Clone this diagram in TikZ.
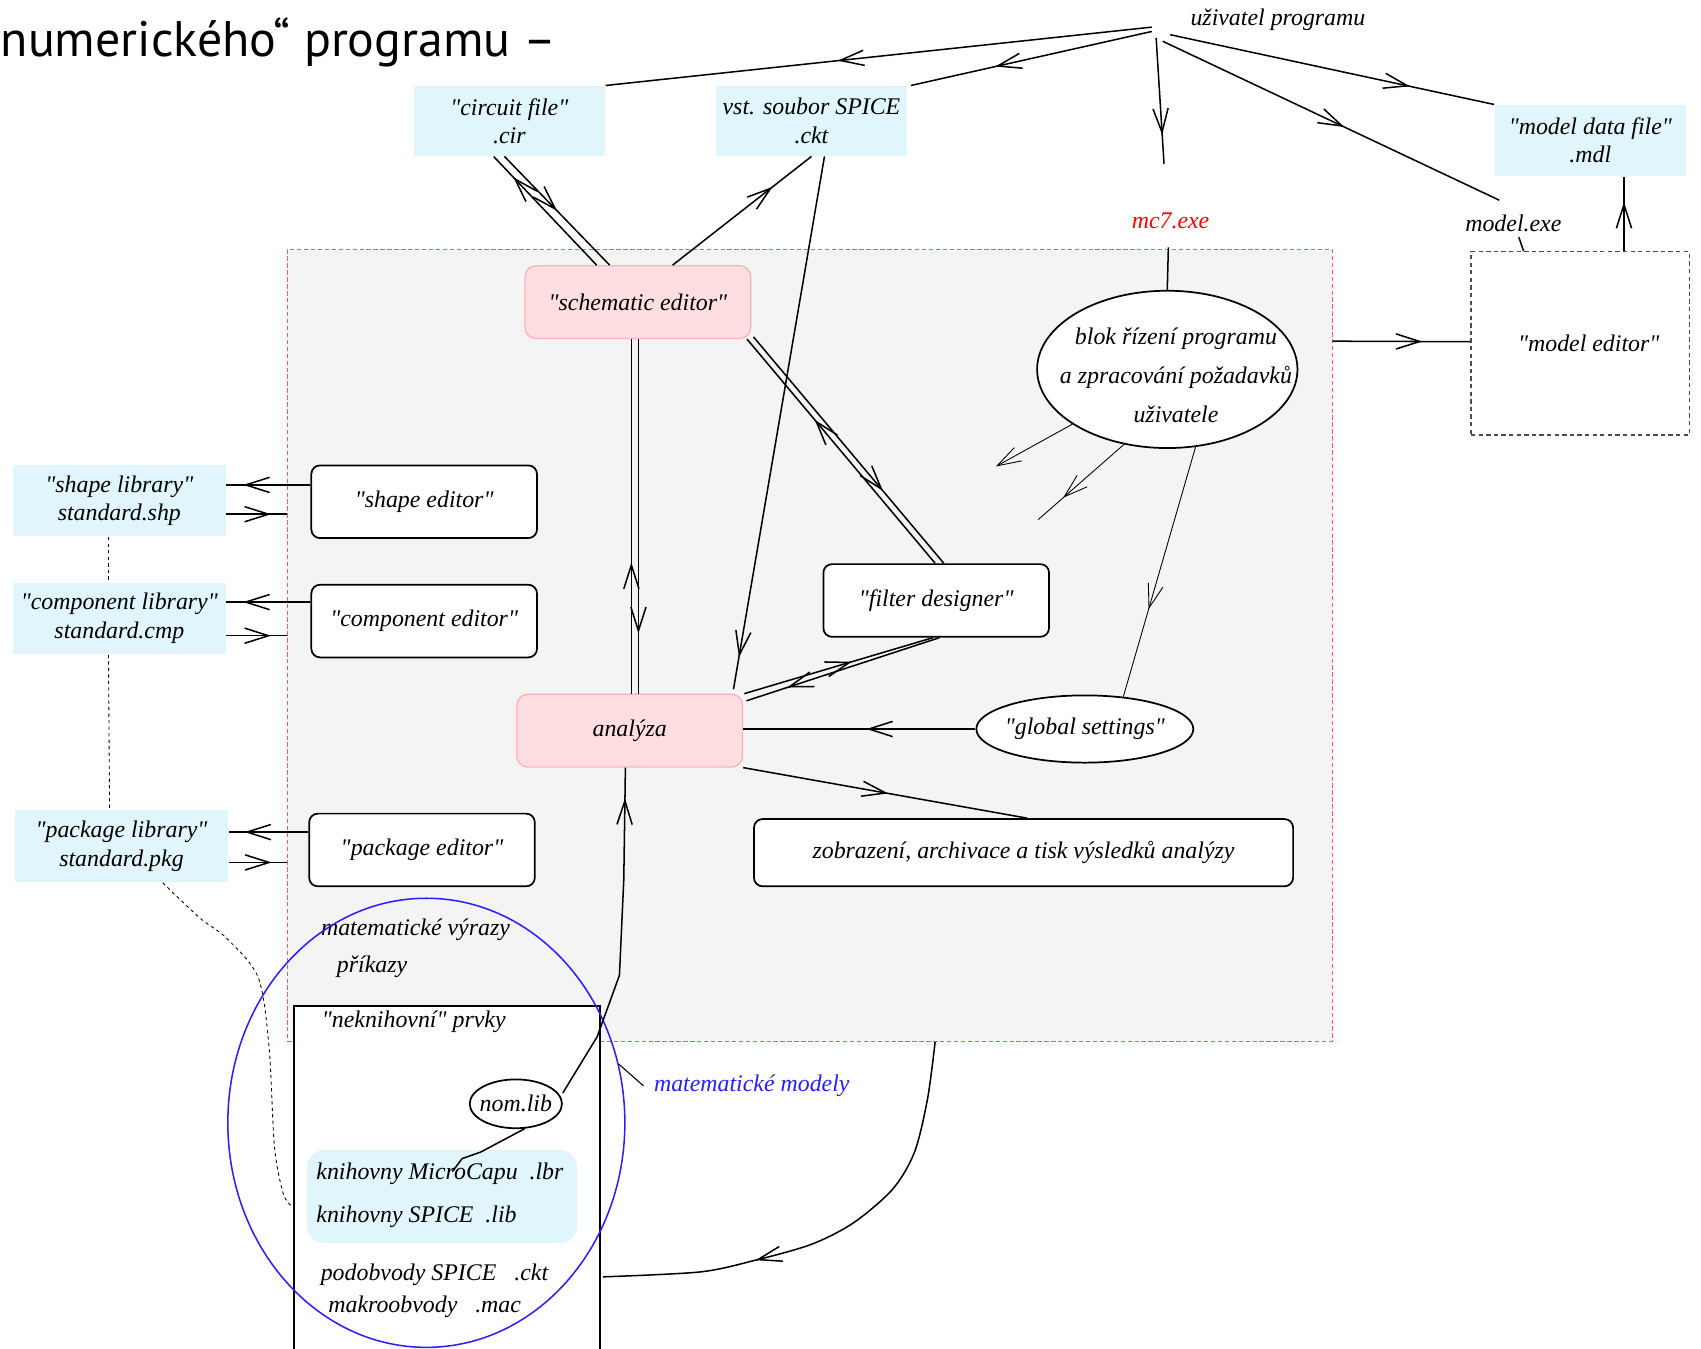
\documentclass[tikz,border=0pt]{standalone}
\usepackage{fontspec}
\setmainfont{Liberation Serif}
\newfontfamily\titlefont{PT Sans}
\usetikzlibrary{calc,shapes.geometric,arrows.meta,decorations.markings}
\definecolor{filecyan}{RGB}{224,246,252}
\definecolor{corepink}{RGB}{255,222,226}
\definecolor{coreedge}{RGB}{255,178,184}
\definecolor{areagray}{RGB}{244,244,244}
\definecolor{areared}{RGB}{255,90,90}
\definecolor{modelblue}{RGB}{40,30,255}
\newcommand\quoted[1]{\textquotedbl#1\textquotedbl}

\begin{document}
\begin{tikzpicture}[x=0.5pt, y=-0.5pt, line width=0.7pt,
    every node/.style={font=\fontsize{11}{13}\selectfont\itshape, inner sep=0pt, align=center},
    filebox/.style={fill=filecyan, minimum width=88pt, minimum height=32pt},
    libbox/.style={fill=filecyan, minimum width=98pt, minimum height=33pt},
    editbox/.style={draw, fill=white, rounded corners=4pt, line width=0.8pt, minimum width=104pt, minimum height=33.5pt},
    corebox/.style={draw=coreedge, fill=corepink, rounded corners=5pt, line width=0.6pt, minimum width=104pt, minimum height=33.5pt},
    oval/.style={draw, ellipse, fill=white, line width=0.8pt},
    flow/.style={postaction={decorate}, decoration={markings,
        mark=at position #1 with {\arrow{Straight Barb[length=11pt,width=7pt]}}}},
    thinflow/.style={flow=#1, line width=0.4pt},
    barbend/.style={line width=0.4pt, -{Straight Barb[length=11pt,width=7pt]}},
    libdots/.style={line width=0.4pt, dash pattern=on 1.5pt off 1.5pt}]
  \useasboundingbox (0,0) rectangle (1568,1243);
  \clip (0,0) rectangle (1568,1243);

  \node[draw=areared, fill=areagray, line width=0.5pt, dash pattern=on 2pt off 1.2pt,
        minimum width=481.5pt, minimum height=365pt] (mcarea) at (746.5,595) {};

  \node[anchor=base west, font=\titlefont\fontsize{23}{28}\selectfont] (title) at (0,52) {numerického“ programu –};
  \node (user) at (1178,18) {uživatel programu};
  \node[filebox] (cir) at (469.5,111.5) {\quoted{circuit file}\\.cir};
  \node[filebox] (ckt) at (748,111.5) {vst. soubor SPICE\\.ckt};
  \node[filebox, minimum height=32.5pt] (mdl) at (1466,129.5) {\quoted{model data file}\\.mdl};
  \node[text=red] (mc7) at (1079,204) {mc7.exe};
  \node (modexe) at (1395,206) {model.exe};
  \node[draw=black!70, dash pattern=on 2pt off 1.5pt, fill=white, line width=0.5pt,
        minimum width=100.5pt, minimum height=84.5pt,
        label={[xshift=4pt]center:\quoted{model editor}}] (modeled) at (1456.5,316.5) {};

  \node[libbox] (shp) at (110,461.5) {\quoted{shape library}\\standard.shp};
  \node[libbox] (cmp) at (110,570) {\quoted{component library}\\standard.cmp};
  \node[libbox] (pkg) at (112,780) {\quoted{package library}\\standard.pkg};

  \node[corebox] (sched) at (588,278.5) {\quoted{schematic editor}};
  \node[corebox] (ana) at (580.5,673.5) {analýza};
  \node[editbox] (shped) at (391,462.5) {\quoted{shape editor}};
  \node[editbox] (cmped) at (391,572.5) {\quoted{component editor}};
  \node[editbox] (pkged) at (389,783.5) {\quoted{package editor}};
  \node[editbox] (filt) at (863,553.5) {\quoted{filter designer}};
  \node[editbox, minimum width=248.5pt, minimum height=31pt] (zobr) at (943.5,786) {zobrazení, archivace a tisk výsledků analýzy};
  \node[oval, minimum width=120pt, minimum height=72.5pt] (blok) at (1076,340.5) {};
  \node[font=\fontsize{11}{18}\selectfont\itshape] (bloktext) at (1084,346) {blok řízení programu\\a zpracování požadavků\\uživatele};
  \node[oval, minimum width=100pt, minimum height=31pt, label={center:\quoted{global settings}}] (glob) at (1000,672) {};

  \node (vyrazy) at (383,857) {matematické výrazy};
  \node (prikazy) at (343,891) {příkazy};
  \node[draw, fill=white, line width=0.8pt, minimum width=141pt, minimum height=175pt] (nekn) at (412,1102) {};
  \node[anchor=west] (neknt) at (296,942) {\quoted{neknihovní} prvky};
  \node[oval, minimum width=42.5pt, minimum height=22.5pt, label={center:nom.lib}] (nomlib) at (475.5,1017.5) {};
  \node[fill=filecyan, rounded corners=8pt, minimum width=124.5pt, minimum height=43pt] (knih) at (407.5,1103) {};
  \node[anchor=west] (mcap) at (291,1082) {knihovny MicroCapu\ \ .lbr};
  \node[anchor=west] (spicelib) at (291,1122) {knihovny SPICE\ \ .lib};
  \node[anchor=west] (podob) at (295,1175) {podobvody SPICE\ \ \ .ckt};
  \node[anchor=west] (makro) at (302,1205) {makroobvody\ \ \ .mac};
  \node[draw=modelblue, ellipse, line width=0.7pt, minimum width=183pt, minimum height=207pt] (mmod) at (393,1035) {};
  \node[text=modelblue] (mmlabel) at (693,1001) {matematické modely};

  \coordinate (free1) at (918,430);
  \coordinate (free2) at (957,479);
  \coordinate (libend) at (417,1080);
  \coordinate (dotstart) at ($(pkg.south)+(38,0)$);
  \coordinate (dotend) at ($(nekn.west)+(-2,9)$);
  \coordinate (curvestart) at ($(mcarea.south)+(115.5,0)$);
  \coordinate (curveend) at ($(nekn.east)+(2,75)$);

  \draw[flow=0.575] ($(user.west)+(-35,7)$) -- (cir.north east);
  \draw[flow=0.65] ($(user.west)+(-35,11)$) -- ($(ckt.north east)+(3,0)$);
  \draw[flow=0.77] ($(user.west)+(-31,17)$) -- ($(mc7.north)+(-6,-45)$);
  \draw[flow=0.54] ($(user.west)+(-25,20)$) -- ($(modexe.north)+(-13,-13)$);
  \draw[flow=0.74] ($(user.west)+(-18,14)$) -- (mdl.north west);
  \draw ($(mc7.south)+(-2,16)$) -- (blok.north);

  \draw[flow=0.81] ($(sched.north)+(-38,0)$) -- ($(cir.south)+(-14.5,0)$);
  \draw[flow=0.5] ($(cir.south)+(-4.5,0)$) -- ($(sched.north)+(-26,0)$);
  \draw[flow=0.72] ($(sched.north)+(32,0)$) -- (ckt.south);
  \draw[flow=0.94] ($(ckt.south)+(12,0)$) -- ($(ana.north east)+(-9,-4)$);
  \draw[flow=0.37] ($(ana.north)+(1.5,0)$) -- ($(sched.south)+(-6,0)$);
  \draw[flow=0.83] ($(sched.south)+(0.5,0)$) -- ($(ana.north)+(8,0)$);
  \draw[flow=0.64] ($(filt.north)+(-1,0)$) -- ($(sched.south east)+(-4,0)$);
  \draw[flow=0.68] ($(sched.south east)+(2,-2)$) -- ($(filt.north)+(7,0)$);
  \draw[flow=0.57] ($(ana.north east)+(1,0)$) -- ($(filt.south)+(-3,0)$);
  \draw[flow=0.79] ($(filt.south)+(3,0)$) -- ($(ana.east)+(3,-27.5)$);
  \draw[flow=0.47] (glob.west) -- (glob.west -| ana.east);
  \draw[flow=0.51] (ana.south east) -- ($(zobr.north)+(3.5,0)$);

  \draw[thinflow=0.65] (blok.-70) -- (glob.40);
  \draw[barbend] (blok.210) -- (free1);
  \draw[thinflow=0.71] (blok.240) -- (free2);
  \draw[flow=0.65] ($(mcarea.north east)+(0,85)$) -- ($(modeled.west)+(0,-1.5)$);
  \draw[flow=0.66] ($(modeled.north)+(40.5,0)$) -- ($(mdl.south)+(31,0)$);
  \draw ($(modexe.south)+(5,4)$) -- ($(modeled.north)+(-52,0)$);

  \draw[flow=0.8] ($(shped.west)+(0,-15.5)$) -- ($(shp.east)+(0,-14.5)$);
  \draw[flow=0.74] ($(shp.east)+(0,12.5)$) -- ($(shped.west)+(-22,11.5)$);
  \draw[flow=0.8] ($(cmped.west)+(0,-17.5)$) -- ($(cmp.east)+(0,-15)$);
  \draw[flow=0.74] ($(cmp.east)+(0,16)$) -- ($(cmped.west)+(-22,13.5)$);
  \draw[flow=0.8] ($(pkged.west)+(0,-16.5)$) -- ($(pkg.east)+(0,-13)$);
  \draw[flow=0.74] ($(pkg.east)+(0,15)$) -- ($(pkged.west)+(-20,11.5)$);

  \draw[libdots] ($(shp.south)+(-10,0)$) -- ($(cmp.north)+(-10,0)$);
  \draw[libdots] ($(cmp.south)+(-10,0)$) -- ($(pkg.north)+(-11,0)$);
  \draw[libdots] plot[smooth, tension=0.5] coordinates {(dotstart) (184,846) (209,865) (238,901) (248,965) (253,1057) (261,1100) (dotend)};

  \draw[flow=0.91] ($(nomlib.east)+(0,-10)$) -- (550.5,955.6) -- (571,899) -- (575,811) -- ($(ana.south)+(-4,0)$);
  \draw (nomlib.-70) -- (443,1062) -- (426,1068) -- (libend);
  \draw[flow=0.67] plot[smooth, tension=0.5] coordinates {(curvestart) (855,1013) (843,1062) (823,1096) (787,1127) (748,1147) (695,1162) (645,1172.5) (curveend)};
  \draw[line width=0.5pt] ($(mmlabel.west)+(-9,0)$) -- (mmod.17);
\end{tikzpicture}
\end{document}
